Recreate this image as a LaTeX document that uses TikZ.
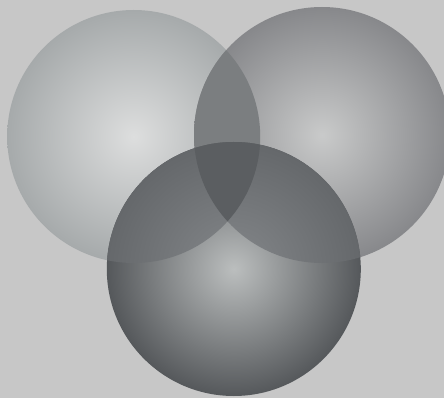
\documentclass[tikz,border=0pt]{standalone}
\definecolor{bgc}{HTML}{C7C7C7}
\definecolor{aIn}{HTML}{DDDEDE}
\definecolor{aOut}{HTML}{A6AAAB}
\definecolor{bIn}{HTML}{C9CACA}
\definecolor{bOut}{HTML}{87888B}
\definecolor{cIn}{HTML}{BBBEBE}
\definecolor{cOut}{HTML}{55585B}
\definecolor{lensAB}{HTML}{7B7E80}
\definecolor{lensCIn}{HTML}{84878A}
\definecolor{lensCOut}{HTML}{65686B}
\definecolor{lensABC}{HTML}{5B5E61}
\pgfdeclareradialshading{sphA}{\pgfpointorigin}{color(0bp)=(aIn); color(25bp)=(aOut); color(50bp)=(aOut)}
\pgfdeclareradialshading{sphB}{\pgfpointorigin}{color(0bp)=(bIn); color(25bp)=(bOut); color(50bp)=(bOut)}
\pgfdeclareradialshading{sphC}{\pgfpointorigin}{color(0bp)=(cIn); color(25bp)=(cOut); color(50bp)=(cOut)}
\pgfdeclareradialshading{sphCL}{\pgfpointorigin}{color(0bp)=(lensCIn); color(25bp)=(lensCOut); color(50bp)=(lensCOut)}
\begin{document}
\begin{tikzpicture}[x=1pt,y=-1pt,
  ballA/.style={shading=sphA},
  ballB/.style={shading=sphB},
  ballC/.style={shading=sphC},
  lensC/.style={shading=sphCL}]
\fill[bgc] (0,0) rectangle (444,398);
\useasboundingbox (0,0) rectangle (444,398);
\coordinate (A) at (133.7,136.5);
\coordinate (B) at (322,135);
\coordinate (C) at (233.8,269);
\def\rA{126.5}
\def\rB{128}
\def\rC{127}
\begin{scope}
\clip (0,0) rectangle (444,398);
\shade[ballA] (A) circle (\rA);
\shade[ballB] (B) circle (\rB);
\shade[ballC] (C) circle (\rC);
\begin{scope}
  \clip (A) circle (\rA);
  \fill[lensAB] (B) circle (\rB);
  \shade[lensC] (C) circle (\rC);
\end{scope}
\begin{scope}
  \clip (B) circle (\rB);
  \shade[lensC] (C) circle (\rC);
  \clip (A) circle (\rA);
  \fill[lensABC] (C) circle (\rC);
\end{scope}
\end{scope}
\end{tikzpicture}
\end{document}
